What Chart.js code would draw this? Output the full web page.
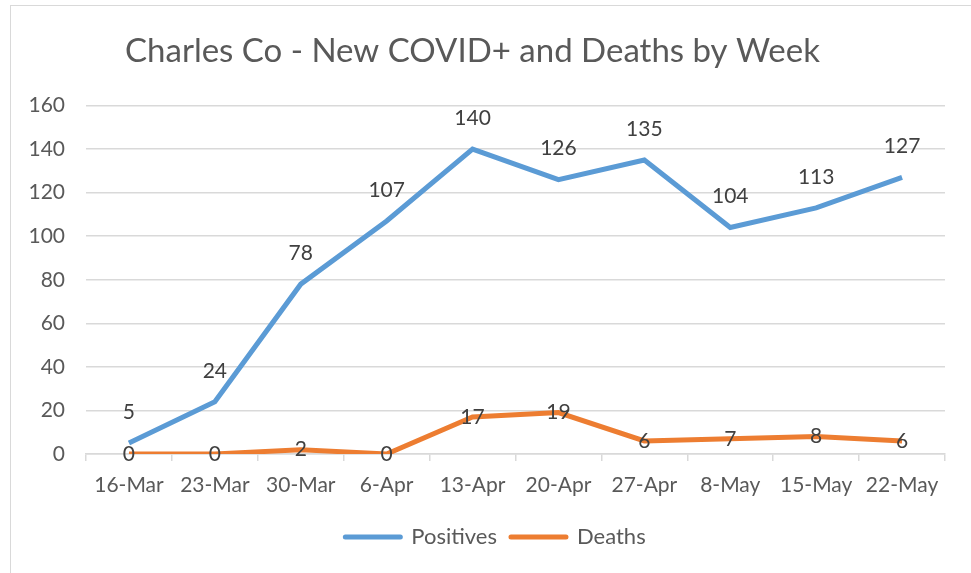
<!DOCTYPE html>
<html>
<head>
<meta charset="utf-8">
<script src="https://cdn.jsdelivr.net/npm/chart.js@4.4.0/dist/chart.umd.min.js"></script>
<style>
  html, body { margin: 0; padding: 0; background: #fff; }
  #wrap { position: relative; width: 971px; height: 573px; }
  #frame { position: absolute; left: 10px; top: 5px; width: 975px; height: 580px; border: 1px solid #d9d9d9; box-sizing: border-box; }
  canvas { position: absolute; left: 0; top: 0; }
</style>
</head>
<body>
<div id="wrap">
  <div id="frame"></div>
  <canvas id="chart" width="971" height="573"></canvas>
</div>
<script>
// dati settimanali
const weeks = ['16-Mar', '23-Mar', '30-Mar', '6-Apr', '13-Apr', '20-Apr', '27-Apr', '8-May', '15-May', '22-May'];
const positives = [5, 24, 78, 107, 140, 126, 135, 104, 113, 127];
const deaths = [0, 0, 2, 0, 17, 19, 6, 7, 8, 6];
const yTicks = [0, 20, 40, 60, 80, 100, 120, 140, 160];

const FONT = 'Lato, "Open Sans", sans-serif';

// etichette dei valori sui punti
const pointLabels = {
    id: 'pointLabels',
    afterDatasetsDraw(chart) {
        const ctx = chart.ctx;
        ctx.save();
        ctx.font = '21px ' + FONT;
        ctx.fillStyle = '#404040';
        ctx.textAlign = 'center';
        ctx.textBaseline = 'middle';
        chart.data.datasets.forEach((ds, i) => {
            const meta = chart.getDatasetMeta(i);
            meta.data.forEach((pt, j) => {
                const dy = i === 0 ? -31 : 0;
                ctx.fillText(String(ds.data[j]), pt.x, pt.y + dy);
            });
        });
        ctx.restore();
    }
};

// sposta la legenda verso destra come nell'originale
const shiftLegend = {
    id: 'shiftLegend',
    afterLayout(chart) {
        chart.legend.left += 23;
        chart.legend.right += 23;
    }
};

new Chart(document.getElementById('chart'), {
    type: 'line',
    data: {
        labels: weeks,
        datasets: [
            { label: 'Positives', data: positives, borderColor: '#5B9BD5', backgroundColor: '#5B9BD5', borderWidth: 5, pointRadius: 0, tension: 0 },
            { label: 'Deaths', data: deaths, borderColor: '#ED7D31', backgroundColor: '#ED7D31', borderWidth: 5, pointRadius: 0, tension: 0 }
        ]
    },
    options: {
        responsive: false,
        animation: false,
        layout: { padding: { left: 0, right: 26, top: 0, bottom: 15 } },
        plugins: {
            title: {
                display: true,
                text: 'Charles Co - New COVID+ and Deaths by Week',
                color: '#595959',
                font: { family: FONT, size: 33, weight: 'normal' },
                padding: { top: 32, bottom: 34 }
            },
            legend: {
                position: 'bottom',
                labels: {
                    color: '#595959',
                    font: { family: FONT, size: 22 },
                    usePointStyle: true,
                    pointStyleWidth: 55,
                    padding: 14,
                    generateLabels(chart) {
                        return chart.data.datasets.map((ds, i) => ({
                            text: ds.label,
                            pointStyle: 'line',
                            strokeStyle: ds.borderColor,
                            fillStyle: ds.borderColor,
                            lineWidth: 5,
                            lineCap: 'round',
                            fontColor: '#595959',
                            datasetIndex: i
                        }));
                    }
                }
            },
            tooltip: { enabled: false }
        },
        scales: {
            x: {
                offset: true,
                afterFit(scale) { scale.height = 58; },
                grid: { offset: true, drawOnChartArea: false, color: '#d9d9d9', tickLength: 7, lineWidth: 1.5 },
                border: { color: '#d9d9d9', width: 1.5 },
                ticks: { color: '#595959', font: { family: FONT, size: 21 }, padding: 12, maxRotation: 0, autoSkip: false }
            },
            y: {
                min: 0,
                max: 160,
                afterBuildTicks(scale) { scale.ticks = yTicks.map(v => ({ value: v })); },
                afterFit(scale) { scale.width = 86; },
                grid: { color: '#d9d9d9', drawTicks: false, lineWidth: 1.5 },
                border: { display: false },
                ticks: { color: '#595959', font: { family: FONT, size: 21 }, padding: 21 }
            }
        }
    },
    plugins: [pointLabels, shiftLegend]
});
</script>
</body>
</html>
